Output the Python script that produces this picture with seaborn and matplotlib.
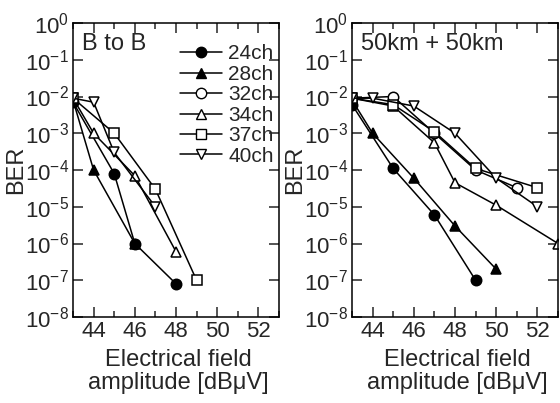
import numpy as np
import pandas as pd
import matplotlib
matplotlib.use("Agg")
import matplotlib.pyplot as plt
import seaborn as sea
from matplotlib.lines import Line2D
from matplotlib.ticker import MultipleLocator, LogLocator, NullLocator

# channel names and marker styles
channels = ["24ch", "28ch", "32ch", "34ch", "37ch", "40ch"]
markers = ["o", "^", "o", "^", "s", "v"]
filled = [True, True, False, False, False, False]

# B to B (back to back)
b2b_x = {
    "24ch": [43, 45, 46, 48],
    "28ch": [43, 44, 46],
    "32ch": [],
    "34ch": [43, 44, 46, 48],
    "37ch": [43, 45, 47, 49],
    "40ch": [43, 44, 45, 47],
}
b2b_ber = {
    "24ch": [7e-3, 8e-5, 1e-6, 8e-8],
    "28ch": [8e-3, 1e-4, 1e-6],
    "32ch": [],
    "34ch": [9e-3, 1e-3, 7e-5, 6e-7],
    "37ch": [9e-3, 1e-3, 3e-5, 1e-7],
    "40ch": [9e-3, 7e-3, 3e-4, 1e-5],
}

# 50km + 50km
km_x = {
    "24ch": [43, 45, 47, 49],
    "28ch": [43, 44, 46, 48, 50],
    "32ch": [43, 45, 47, 49, 51],
    "34ch": [43, 45, 47, 48, 50, 53],
    "37ch": [43, 45, 47, 49, 52],
    "40ch": [43, 44, 46, 48, 50, 52],
}
km_ber = {
    "24ch": [6e-3, 1.1e-4, 6e-6, 1e-7],
    "28ch": [8e-3, 1e-3, 6e-5, 3e-6, 2e-7],
    "32ch": [9e-3, 1e-2, 1e-3, 1e-4, 3.3e-5],
    "34ch": [9e-3, 5.5e-3, 5.5e-4, 4.5e-5, 1.1e-5, 1e-6],
    "37ch": [9e-3, 6e-3, 1.1e-3, 1.1e-4, 3.3e-5],
    "40ch": [9e-3, 9e-3, 5.5e-3, 1e-3, 6e-5, 1e-5],
}

sea.set_style("ticks")
plt.rcParams["font.family"] = ["Liberation Sans", "DejaVu Sans"]
plt.rcParams["mathtext.fontset"] = "custom"
plt.rcParams["mathtext.rm"] = "Liberation Sans"
plt.rcParams["mathtext.it"] = "Liberation Sans"
plt.rcParams["mathtext.bf"] = "Liberation Sans"
plt.rcParams["axes.unicode_minus"] = False

fs = 16
fig = plt.figure(figsize=(5.6, 4.03), dpi=100)
ax1 = fig.add_axes([73 / 560, 1 - 317 / 403, 206 / 560, 294 / 403])
ax2 = fig.add_axes([352 / 560, 1 - 317 / 403, 206 / 560, 294 / 403])


def draw(ax, xs, ys, title):
    for ch, mk, fl in zip(channels, markers, filled):
        if len(xs[ch]) == 0:
            continue
        df = pd.DataFrame({"x": xs[ch], "ber": ys[ch]})
        sea.lineplot(data=df, x="x", y="ber", ax=ax, color="black", lw=1.1,
                     marker=mk, markersize=7.5, markeredgewidth=1.1,
                     markerfacecolor="black" if fl else "white",
                     markeredgecolor="black", sort=False, legend=False)
    ax.set_yscale("log")
    ax.set_ylim(1e-8, 1)
    ax.set_xlim(43, 53)
    ax.xaxis.set_major_locator(MultipleLocator(2))
    ax.xaxis.set_minor_locator(MultipleLocator(1))
    ax.yaxis.set_major_locator(LogLocator(base=10, numticks=20))
    ax.yaxis.set_minor_locator(NullLocator())
    ax.tick_params(which="both", direction="in", top=True, right=True,
                   labelsize=fs, width=1.1, pad=3)
    ax.tick_params(which="major", length=7)
    ax.tick_params(which="minor", length=4)
    ax.set_xticks([44, 46, 48, 50, 52])
    for s in ax.spines.values():
        s.set_linewidth(1.1)
        s.set_color("black")
    ax.set_ylabel("BER", fontsize=fs + 1)
    ax.yaxis.set_label_coords(-0.225, 0.5)
    ax.set_xlabel("Electrical field\namplitude [dB\u03bcV]", fontsize=fs + 1,
                  linespacing=1.05)
    ax.xaxis.set_label_coords(0.51, -0.11)
    ax.text(0.045, 0.965, title, transform=ax.transAxes, fontsize=17,
            va="top", ha="left")


draw(ax1, b2b_x, b2b_ber, "B to B")
draw(ax2, km_x, km_ber, "50km + 50km")

handles = [Line2D([], [], color="black", lw=1.1, marker=mk, markersize=7.5,
                  markerfacecolor="black" if fl else "white",
                  markeredgecolor="black")
           for mk, fl in zip(markers, filled)]
ax1.legend(handles, channels, loc="upper left", bbox_to_anchor=(0.52, 0.927),
           frameon=False, fontsize=15, handlelength=2.0, handletextpad=0.3,
           labelspacing=0.07, borderpad=0, borderaxespad=0)

plt.savefig("out.png", dpi=100)
